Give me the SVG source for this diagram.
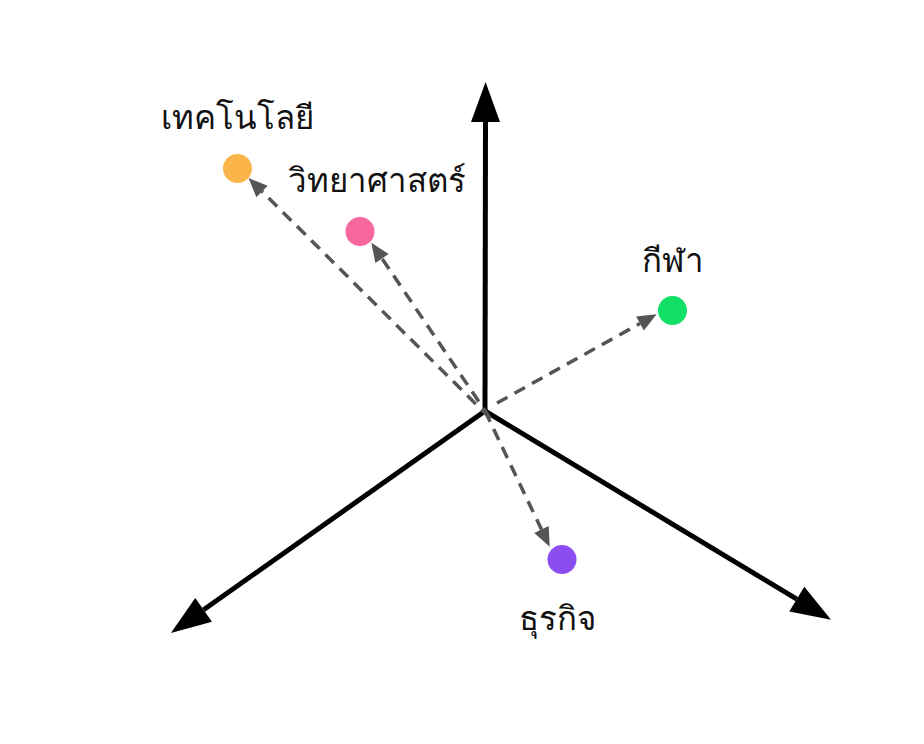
<svg xmlns="http://www.w3.org/2000/svg" width="924" height="744" viewBox="0 0 924 744">
<style>
.axis{stroke:#000;stroke-width:5;fill:none;marker-end:url(#big)}
.vec{stroke:#555;stroke-width:3.5;stroke-dasharray:12 8;fill:none;marker-end:url(#small)}
.lbl{font-family:"Noto Sans","DejaVu Sans",sans-serif;font-size:33px;font-weight:500;fill:#111;text-anchor:middle}
</style>
<defs>
<marker id="big" markerUnits="userSpaceOnUse" markerWidth="50" markerHeight="40" viewBox="0 -20 50 40" refX="0" refY="0" orient="auto" overflow="visible">
<path d="M0,-14.5 L40,0 L0,14.5 Z" fill="#000"/>
</marker>
<marker id="small" markerUnits="userSpaceOnUse" markerWidth="30" markerHeight="24" viewBox="0 -12 30 24" refX="0" refY="0" orient="auto" overflow="visible">
<path d="M0,-8 L19,0 L0,8 Z" fill="#555"/>
</marker>
</defs>
<rect width="924" height="744" fill="#fff"/>
<g id="connectors">
<line class="axis" x1="485" y1="411" x2="485.5" y2="122"/>
<line class="axis" x1="485" y1="411" x2="203.6" y2="609.8"/>
<line class="axis" x1="485" y1="411" x2="796.8" y2="599.2"/>
<line class="vec" x1="490" y1="418" x2="262" y2="191.5"/>
<line class="vec" x1="490" y1="418" x2="382" y2="258.5"/>
<line class="vec" x1="497" y1="403" x2="640" y2="323.5"/>
<line class="vec" x1="485" y1="411" x2="541.5" y2="529.5"/>
</g>
<g id="node-tech">
<circle cx="237.5" cy="168.5" r="14.5" fill="#fab44a"/>
<text class="lbl" x="237" y="129">เทคโนโลยี</text>
</g>
<g id="node-science">
<circle cx="360" cy="231.5" r="14.5" fill="#f6679e"/>
<text class="lbl" x="377" y="192">วิทยาศาสตร์</text>
</g>
<g id="node-sport">
<circle cx="672.5" cy="310.5" r="14.5" fill="#12e066"/>
<text class="lbl" x="673" y="272">กีฬา</text>
</g>
<g id="node-business">
<circle cx="562" cy="559.5" r="14.5" fill="#8b4cf0"/>
<text class="lbl" x="557" y="630">ธุรกิจ</text>
</g>
</svg>
